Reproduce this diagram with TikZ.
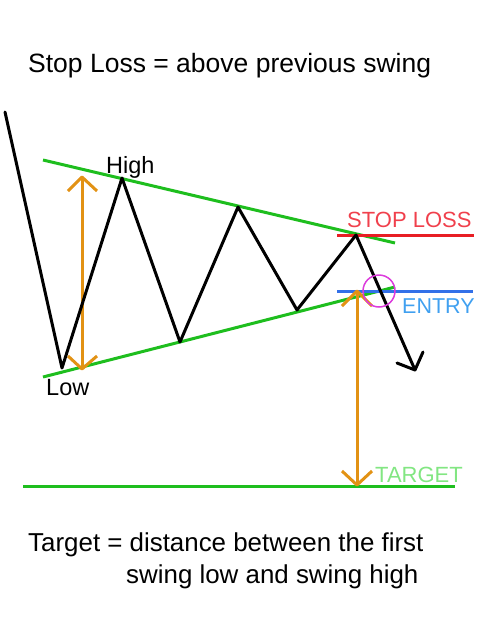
\documentclass[tikz,border=0pt]{standalone}
\usepackage{fontspec}
\setmainfont{Liberation Sans}
\definecolor{gline}{RGB}{30,190,30}
\definecolor{oarr}{RGB}{226,146,20}
\definecolor{rline}{RGB}{232,30,36}
\definecolor{rtext}{RGB}{240,64,76}
\definecolor{bline}{RGB}{50,112,232}
\definecolor{btext}{RGB}{64,160,240}
\definecolor{ttext}{RGB}{130,230,130}
\definecolor{mag}{RGB}{220,60,220}
\begin{document}
\begin{tikzpicture}[x=1pt,y=-1pt,
  price/.style={line width=3pt,black,line join=round,line cap=round},
  trend/.style={line width=3pt,gline},
  measure/.style={line width=3pt,oarr,line join=round},
  lvl/.style={line width=3pt},
  lbl/.style={anchor=base west,inner sep=0pt}]
\useasboundingbox (0,0) rectangle (479,640);
% price path
\coordinate (s) at (5,112);
\coordinate (l1) at (62,368);
\coordinate (h1) at (122,178);
\coordinate (l2) at (180,342);
\coordinate (h2) at (238,207);
\coordinate (l3) at (297,310);
\coordinate (h3) at (356,235);
\coordinate (tip) at (415,370);
\coordinate (b1) at (397,363);
\coordinate (b2) at (423,352);
% trend lines
\coordinate (ua) at (43,160);
\coordinate (ub) at (395,243);
\coordinate (la) at (43,377);
\coordinate (lb) at (395,287);
\draw[trend] (ua) -- (ub);
\draw[trend] (la) -- (lb);
% target line
\coordinate (ta) at (23,486);
\coordinate (tb) at (455,486);
\draw[trend] (ta) -- (tb);
% stop / entry
\coordinate (sa) at (337,235);
\coordinate (sb) at (474,235);
\coordinate (ea) at (337,291);
\coordinate (eb) at (473,291);
\draw[lvl,rline] (sa) -- (sb);
\draw[lvl,bline] (ea) -- (eb);
% orange measures
\coordinate (m1t) at (82,177);
\coordinate (m1b) at (82,369);
\coordinate (m1tl) at (68,191);
\coordinate (m1tr) at (97,191);
\coordinate (m1bl) at (68,356);
\coordinate (m1br) at (97,356);
\draw[measure] (m1t) -- (m1b);
\draw[measure] (m1tl) -- (m1t) -- (m1tr);
\draw[measure] (m1bl) -- (m1b) -- (m1br);
\coordinate (m2t) at (357,291);
\coordinate (m2b) at (357,485);
\coordinate (m2tl) at (342,306);
\coordinate (m2tr) at (372,306);
\coordinate (m2bl) at (342,471);
\coordinate (m2br) at (372,471);
\draw[measure] (m2t) -- (m2b);
\draw[measure] (m2tl) -- (m2t) -- (m2tr);
\draw[measure] (m2bl) -- (m2b) -- (m2br);
% price
\draw[price] (s) -- (l1) -- (h1) -- (l2) -- (h2) -- (l3) -- (h3) -- (tip);
\draw[price] (b1) -- (tip) -- (b2);
% entry circle
\node[draw=mag,line width=1.5pt,circle,minimum size=32pt,inner sep=0pt] (circ) at (379,291) {};
% labels
\node[lbl,font=\fontsize{26.5}{32}\selectfont] (top) at (28,72) {Stop Loss = above previous swing};
\node[lbl,font=\fontsize{23.5}{26}\selectfont] (hi) at (106,173) {High};
\node[lbl,font=\fontsize{23.5}{26}\selectfont] (lo) at (46,395) {Low};
\node[lbl,font=\fontsize{22}{28}\selectfont,text=rtext] (sl) at (347,227) {STOP LOSS};
\node[lbl,font=\fontsize{21.5}{28}\selectfont,text=btext] (en) at (402,313) {ENTRY};
\node[lbl,font=\fontsize{22}{28}\selectfont,text=ttext] (tg) at (375,482) {TARGET};
\node[lbl,font=\fontsize{25.9}{30}\selectfont] (b1t) at (28,551) {Target = distance between the first};
\node[lbl,font=\fontsize{25.9}{30}\selectfont] (b2t) at (126,583) {swing low and swing high};
\end{tikzpicture}
\end{document}
